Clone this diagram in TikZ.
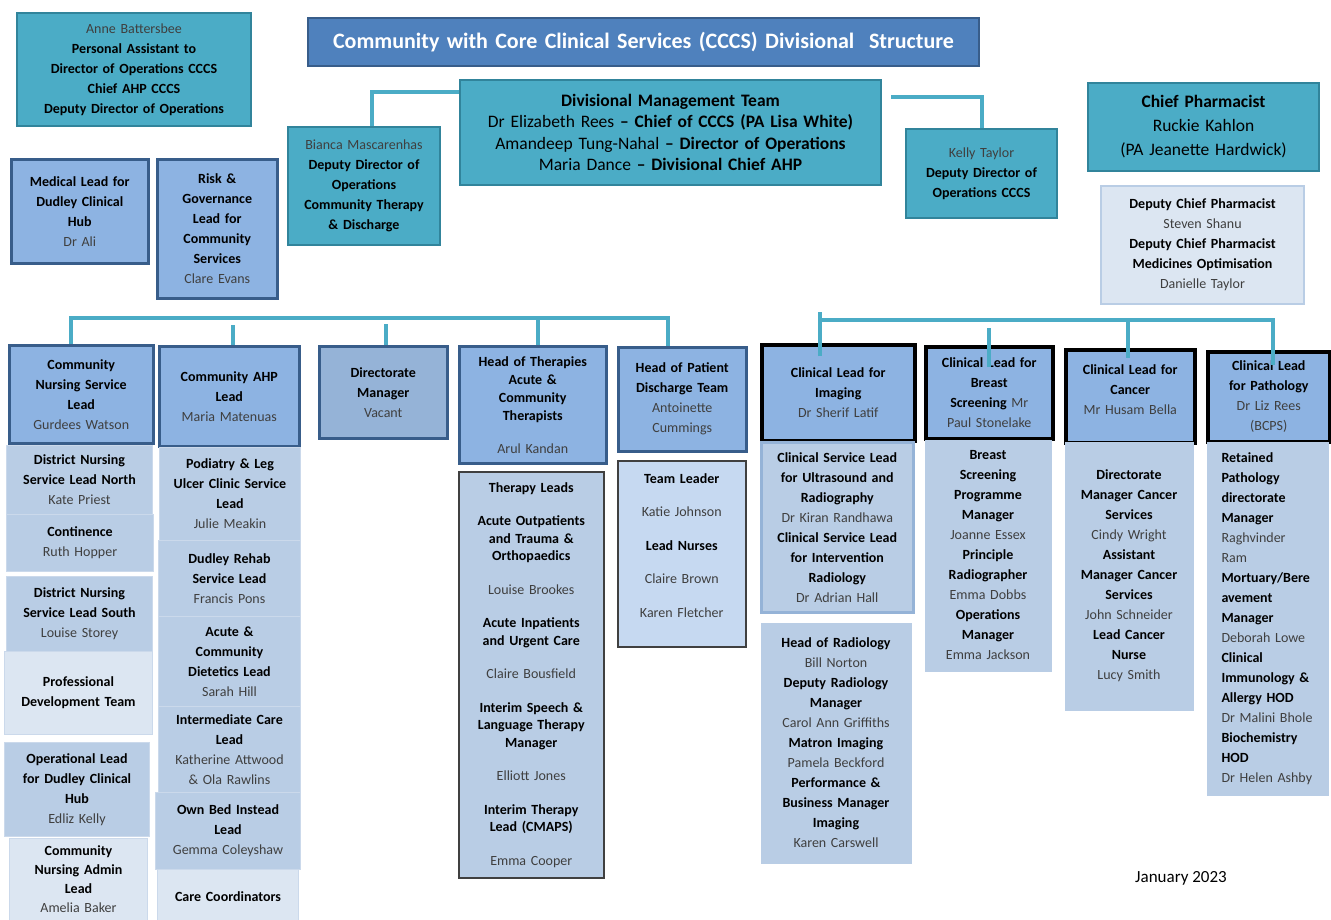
\documentclass[tikz,border=0pt]{standalone}
\usepackage{fontspec}
\setmainfont{Carlito}
\usepackage{tikz}

\definecolor{aquafill}{HTML}{4BACC6}
\definecolor{aqualine}{HTML}{31849B}
\definecolor{titlefill}{HTML}{4F81BD}
\definecolor{titleline}{HTML}{385D8A}
\definecolor{headfill}{HTML}{8DB3E2}
\definecolor{dirfill}{HTML}{95B3D7}
\definecolor{subfill}{HTML}{B9CDE5}
\definecolor{subline}{HTML}{CBD9EB}
\definecolor{leadfill}{HTML}{C6D9F1}
\definecolor{palefill}{HTML}{DCE6F2}
\definecolor{linkcol}{HTML}{4BACC6}
\definecolor{namegrey}{HTML}{3F3F3F}

\tikzstyle{chart}=[x=1pt, y=-1pt, font=\fontsize{14}{20}\selectfont\bfseries]
\tikzstyle{box}=[rectangle, anchor=north west, align=center, inner xsep=0pt, inner ysep=0pt]
\tikzstyle{tealbox}=[box, fill=aquafill, draw=aqualine, line width=2pt]
\tikzstyle{titlebox}=[box, fill=titlefill, draw=titleline, line width=2pt, text=white, font=\fontsize{22}{26}\selectfont\bfseries]
\tikzstyle{headbox}=[box, fill=headfill, draw=titleline, line width=2.5pt]
\tikzstyle{dirbox}=[headbox, fill=dirfill]
\tikzstyle{clinbox}=[box, fill=headfill, draw=black, line width=3.5pt]
\tikzstyle{subbox}=[box, fill=subfill, draw=subline, line width=1pt]
\tikzstyle{palebox}=[box, fill=palefill, draw=subline, line width=1pt]
\tikzstyle{ultrabox}=[box, fill=subfill, draw=dirfill, line width=2.5pt]
\tikzstyle{framebox}=[box, fill=subfill, draw=black!75, line width=1.5pt]
\tikzstyle{pharmbox}=[box, fill=palefill, draw=subfill, line width=2pt]
\tikzstyle{link}=[draw=linkcol, line width=4pt]
\tikzset{wh/.style 2 args={text width=#1pt, minimum height=#2pt}}
\newcommand{\nm}[1]{\mbox{\mdseries\color{namegrey}#1}}

\begin{document}
\begin{tikzpicture}[chart]
	\useasboundingbox (0,0) rectangle (1331,919);
	\clip (0,0) rectangle (1331,919);
	%% top of the chart
	\draw (16,12) node[tealbox, wh={234}{113}] (anne) {\nm{Anne Battersbee}\\Personal Assistant to\\Director of Operations CCCS\\Chief AHP CCCS\\Deputy Director of Operations};
	\draw (307,17) node[titlebox, wh={671}{48}] (title) {Community with Core Clinical Services (CCCS) Divisional\ \ Structure};
	\draw (459,79) node[tealbox, wh={421}{105}, font=\fontsize{17.5}{21.5}\selectfont\mdseries] (dmt) {\textbf{Divisional Management Team}\\Dr Elizabeth Rees \textbf{– Chief of CCCS (PA Lisa White)}\\Amandeep Tung-Nahal \textbf{– Director of Operations}\\Maria Dance \textbf{– Divisional Chief AHP}};
	\draw (287,126) node[tealbox, wh={152}{118}] (bianca) {\nm{Bianca Mascarenhas}\\Deputy Director of\\Operations\\Community Therapy\\\& Discharge};
	\draw (905,128) node[tealbox, wh={151}{89}] (kelly) {\nm{Kelly Taylor}\\Deputy Director of\\Operations CCCS};
	\draw (1087,82) node[tealbox, wh={231}{88}, font=\fontsize{17.5}{24}\selectfont\mdseries] (chief) {\textbf{Chief Pharmacist}\\Ruckie Kahlon\\(PA Jeanette Hardwick)};
	\draw (1100,185) node[pharmbox, wh={203}{118}] (depchief) {Deputy Chief Pharmacist\\\nm{Steven Shanu}\\Deputy Chief Pharmacist\\Medicines Optimisation\\\nm{Danielle Taylor}};
	\draw (10,158) node[headbox, wh={137}{104}] (medlead) {Medical Lead for\\Dudley Clinical\\Hub\\\nm{Dr Ali}};
	\draw (156,158) node[headbox, wh={120}{139}] (risk) {Risk \&\\Governance\\Lead for\\Community\\Services\\\nm{Clare Evans}};
	%%
	\draw[link] ([yshift=-13pt]dmt.north west) -| ([xshift=8pt]bianca.north);
	\draw[link] ([xshift=9pt,yshift=-18pt]dmt.north east) -| (kelly.north);

	%%%% community side
	\coordinate (lbus) at (0,318);
	\draw (8,344) node[headbox, wh={144}{98}] (cnsl) {Community\\Nursing Service\\Lead\\\nm{Gurdees Watson}};
	\draw (6,445) node[subbox, wh={146}{69}] (dnn) {District Nursing\\Service Lead North\\\nm{Kate Priest}};
	\draw (6,514) node[subbox, wh={147}{57}] (cont) {Continence\\\nm{Ruth Hopper}};
	\draw (6,576) node[subbox, wh={146}{75}] (dns) {District Nursing\\Service Lead South\\\nm{Louise Storey}};
	\draw (4,651) node[palebox, wh={148}{83}] (pdt) {Professional\\Development Team};
	\draw (4,742) node[subbox, wh={145}{94}] (opl) {Operational Lead\\for Dudley Clinical\\Hub\\\nm{Edliz Kelly}};
	\draw (9,838) node[palebox, wh={138}{82}, font=\fontsize{14}{19}\selectfont\bfseries] (admin) {Community\\Nursing Admin\\Lead\\\nm{Amelia Baker}};
	%%
	\draw (158,345) node[headbox, wh={140}{100}] (ahp) {Community AHP\\Lead\\\nm{Maria Matenuas}};
	\draw (159,447) node[subbox, wh={141}{93}] (pod) {Podiatry \& Leg\\Ulcer Clinic Service\\Lead\\\nm{Julie Meakin}};
	\draw (158,540) node[subbox, wh={142}{76}] (rehab) {Dudley Rehab\\Service Lead\\\nm{Francis Pons}};
	\draw (158,616) node[subbox, wh={142}{90}] (diet) {Acute \&\\Community\\Dietetics Lead\\\nm{Sarah Hill}};
	\draw (158,706) node[subbox, wh={142}{86}] (inter) {Intermediate Care\\Lead\\\nm{Katherine Attwood}\\\nm{\& Ola Rawlins}};
	\draw (155,792) node[subbox, wh={145}{77}] (ownbed) {Own Bed Instead\\Lead\\\nm{Gemma Coleyshaw}};
	\draw (157,869) node[palebox, wh={141}{55}] (carec) {Care Coordinators};
	%%
	\draw (318,345) node[dirbox, wh={128}{92}] (dirm) {Directorate\\Manager\\\nm{Vacant}};
	%%
	\draw (458,345) node[headbox, wh={147}{117}, font=\fontsize{14}{18}\selectfont\bfseries] (thead) {Head of Therapies\\Acute \&\\Community\\Therapists\\[15pt]\nm{Arul Kandan}};
	\draw (458,471) node[framebox, wh={145}{406}, font=\fontsize{14}{17.5}\selectfont\bfseries] (tleads) {Therapy Leads\\[16pt]Acute Outpatients\\and Trauma \&\\Orthopaedics\\[16pt]\nm{Louise Brookes}\\[16pt]Acute Inpatients\\and Urgent Care\\[16pt]\nm{Claire Bousfield}\\[16pt]Interim Speech \&\\Language Therapy\\Manager\\[16pt]\nm{Elliott Jones}\\[16pt]Interim Therapy\\Lead (CMAPS)\\[16pt]\nm{Emma Cooper}};
	%%
	\draw (617,346) node[headbox, wh={128}{104}] (hpd) {Head of Patient\\Discharge Team\\\nm{Antoinette}\\\nm{Cummings}};
	\draw (617,460) node[framebox, fill=leadfill, wh={128}{186}] (tleader) {Team Leader\\[13.5pt]\nm{Katie Johnson}\\[13.5pt]Lead Nurses\\[13.5pt]\nm{Claire Brown}\\[13.5pt]\nm{Karen Fletcher}\\[-3pt]\mbox{}};
	%%
	\draw[link] ([xshift=-10pt]cnsl.north) |- ([xshift=-14pt]hpd.north |- lbus) -- ([xshift=-14pt]hpd.north);
	\draw[link] ([xshift=5pt]thead.north) -- ([xshift=5pt]thead.north |- lbus);
	\draw[link] ([xshift=4pt,yshift=20pt]ahp.north) -- ([xshift=4pt]ahp.north);
	\draw[link] ([xshift=3pt,yshift=21pt]dirm.north) -- ([xshift=3pt]dirm.north);

	%%%% core clinical side
	\coordinate (rbus) at (0,320);
	\coordinate (rtop) at (0,312);
	\draw (760,343) node[clinbox, wh={153}{96}] (imaging) {Clinical Lead for\\Imaging\\\nm{Dr Sherif Latif}};
	\draw (760,441) node[ultrabox, wh={152}{170}] (ultra) {Clinical Service Lead\\for Ultrasound and\\Radiography\\\nm{Dr Kiran Randhawa}\\Clinical Service Lead\\for Intervention\\Radiology\\\nm{Dr Adrian Hall}};
	\draw (760,622) node[subbox, draw=none, wh={151}{241}] (radio) {Head of Radiology\\\nm{Bill Norton}\\Deputy Radiology\\Manager\\\nm{Carol Ann Griffiths}\\Matron Imaging\\\nm{Pamela Beckford}\\Performance \&\\Business Manager\\Imaging\\\nm{Karen Carswell}};
	%%
	\draw (924,345) node[clinbox, wh={127}{92}] (breast) {Clinical Lead for\\Breast\\Screening \nm{Mr}\\\nm{Paul Stonelake}};
	\draw (924,439) node[subbox, draw=none, wh={127}{232}] (bsp) {Breast\\Screening\\Programme\\Manager\\\nm{Joanne Essex}\\Principle\\Radiographer\\\nm{Emma Dobbs}\\Operations\\Manager\\\nm{Emma Jackson}};
	%%
	\draw (1064,348) node[clinbox, wh={129}{93}] (cancer) {Clinical Lead for\\Cancer\\\nm{Mr Husam Bella}\\[-6pt]\mbox{}};
	\draw (1064,441) node[subbox, draw=none, wh={129}{269}] (cancsub) {Directorate\\Manager Cancer\\Services\\\nm{Cindy Wright}\\Assistant\\Manager Cancer\\Services\\\nm{John Schneider}\\Lead Cancer\\Nurse\\\nm{Lucy Smith}};
	%%
	\draw (1206,350) node[clinbox, wh={122}{90}] (path) {Clinical Lead\\for Pathology\\\nm{Dr Liz Rees}\\\nm{(BCPS)}};
	\draw (1206,441) node[subbox, draw=none, text width=92pt, minimum height=354pt, inner xsep=15pt, align=left] (pathsub) {Retained\\Pathology\\directorate\\Manager\\\nm{Raghvinder}\\\nm{Ram}\\Mortuary/Bere\\avement\\Manager\\\nm{Deborah Lowe}\\Clinical\\Immunology \&\\Allergy HOD\\\nm{Dr Malini Bhole}\\Biochemistry\\HOD\\\nm{Dr Helen Ashby}};
	%%
	\draw[link] ([xshift=-18pt,yshift=-13pt]imaging.north) -- ([xshift=-18pt]imaging.north |- rtop);
	\draw[link] ([xshift=-18pt]imaging.north |- rbus) -- ([xshift=4pt]path.north |- rbus) -- ([xshift=4pt,yshift=-15pt]path.north);
	\draw[link] ([xshift=-2pt]cancer.north |- rbus) -- ([xshift=-2pt,yshift=-10pt]cancer.north);
	\draw[link] ([yshift=17pt]breast.north) -- ([yshift=-22pt]breast.north);

	\draw (1181,878) node[font=\fontsize{17}{20}\selectfont\mdseries] (date) {January 2023};
\end{tikzpicture}
\end{document}
